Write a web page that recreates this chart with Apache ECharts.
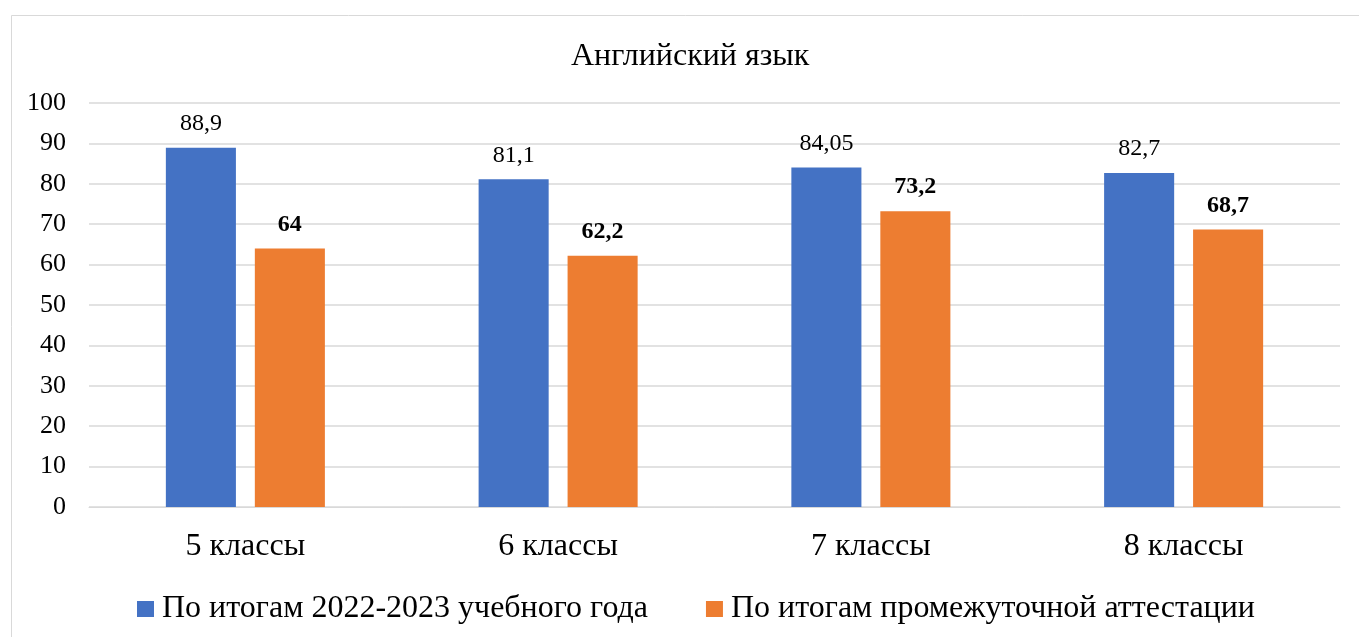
<!DOCTYPE html>
<html>
<head>
<meta charset="utf-8">
<script src="https://cdn.jsdelivr.net/npm/echarts@6/dist/echarts.min.js"></script>
<style>
html,body{margin:0;padding:0;background:#fff;}
#c{width:1359px;height:637px;}
</style>
</head>
<body>
<div id="c"></div>
<script>
const titleText = 'Английский язык';
const categories = ['5 классы', '6 классы', '7 классы', '8 классы'];
const seriesNames = ['По итогам 2022-2023 учебного года', 'По итогам промежуточной аттестации'];
const yearValues = [88.9, 81.1, 84.05, 82.7];
const attestValues = [64, 62.2, 73.2, 68.7];
const yTicks = {min: 0, max: 100, interval: 10};

const FONT = '"Liberation Serif", "Times New Roman", serif';
const fmt = p => String(p.value).replace('.', ',');

const chart = echarts.init(document.getElementById('c'));
chart.setOption({
  animation: false,
  backgroundColor: '#fff',
  graphic: [{
    type: 'rect', left: 9, top: 13,
    shape: {width: 1400, height: 700},
    style: {fill: 'none', stroke: '#D9D9D9', lineWidth: 1}
  }],
  title: {
    text: titleText, left: 566, top: 36,
    textStyle: {fontFamily: FONT, fontSize: 32, fontWeight: 'normal', color: '#000'}
  },
  legend: {
    top: 588, left: 132,
    itemWidth: 17, itemHeight: 16, itemGap: 58,
    icon: 'rect',
    textStyle: {fontFamily: FONT, fontSize: 32, color: '#000', padding: [0, 0, 0, 3]},
    data: seriesNames
  },
  grid: {left: 89, right: 19, top: 103, bottom: 130, containLabel: false},
  xAxis: {
    type: 'category', data: categories,
    axisLine: {lineStyle: {color: '#D9D9D9', width: 1}},
    axisTick: {show: false},
    axisLabel: {fontFamily: FONT, fontSize: 32, color: '#000', margin: 24}
  },
  yAxis: {
    type: 'value', min: yTicks.min, max: yTicks.max, interval: yTicks.interval,
    axisLine: {show: false}, axisTick: {show: false},
    splitLine: {lineStyle: {color: '#D9D9D9', width: 1.5}},
    axisLabel: {fontFamily: FONT, fontSize: 26, color: '#000', margin: 23}
  },
  series: [{
    name: seriesNames[0], type: 'bar', data: yearValues,
    barWidth: '22.4%', barGap: '27%',
    itemStyle: {color: '#4472C4'},
    label: {show: true, position: 'top', distance: 12, formatter: fmt,
      fontFamily: FONT, fontSize: 24, color: '#000'}
  }, {
    name: seriesNames[1], type: 'bar', data: attestValues,
    barWidth: '22.4%',
    itemStyle: {color: '#ED7D31'},
    label: {show: true, position: 'top', distance: 12, formatter: fmt,
      fontFamily: FONT, fontSize: 24, fontWeight: 'bold', color: '#000'}
  }]
});
</script>
</body>
</html>
